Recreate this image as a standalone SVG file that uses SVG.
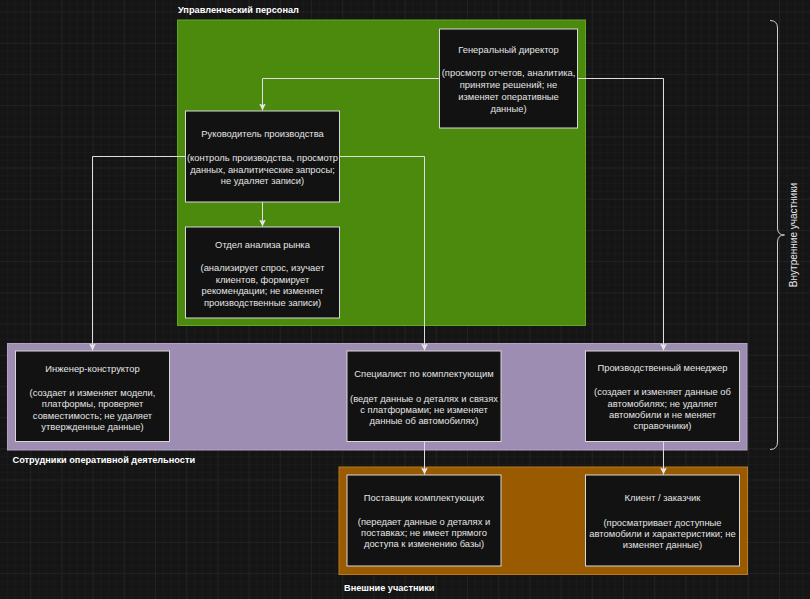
<svg xmlns="http://www.w3.org/2000/svg" width="810" height="599" viewBox="0 0 810 599">
<defs>
<pattern id="minor" width="7.8" height="7.8" patternUnits="userSpaceOnUse" x="0" y="12.5">
<path d="M7.8 0V7.8M0 7.8H7.8" fill="none" stroke="#1e1e1e" stroke-width="1"/>
</pattern>
<pattern id="major" width="31.2" height="31.2" patternUnits="userSpaceOnUse" x="0" y="12.5">
<path d="M31.2 0V31.2M0 31.2H31.2" fill="none" stroke="#282828" stroke-width="1"/>
</pattern>
<marker id="arr" markerUnits="userSpaceOnUse" markerWidth="8" markerHeight="8" refX="7" refY="4" orient="auto">
<path d="M0,0.6 L7,4 L0,7.4 L1.6,4 Z" fill="#e6e6e6"/>
</marker>
<style>
.node rect{fill:#121212;stroke:#d8d8d8;stroke-width:1}
.node text{font-family:"Liberation Sans",Arial,sans-serif;font-size:9.4px;fill:#e4e4e4;text-anchor:middle}
.title{font-family:"Liberation Sans",Arial,sans-serif;font-size:9.2px;font-weight:bold;fill:#ffffff}
.conn path{fill:none;stroke:#dedede;stroke-width:1;marker-end:url(#arr)}
</style>
</defs>
<rect width="810" height="599" fill="#151515"/>
<rect width="810" height="599" fill="url(#minor)"/>
<rect width="810" height="599" fill="url(#major)"/>

<g id="group-management">
<rect x="177.5" y="20" width="408" height="305.5" fill="#4b8a0c" stroke="#62a524" stroke-width="1"/>
<text class="title" x="178" y="12.5">Управленческий персонал</text>
</g>
<g id="group-operational">
<rect x="7.5" y="343.5" width="739.5" height="106.5" fill="#9e8db2" stroke="#b3a4c4" stroke-width="1"/>
<text class="title" x="12.5" y="462.5">Сотрудники оперативной деятельности</text>
</g>
<g id="group-external">
<rect x="339" y="467" width="408.5" height="107.5" fill="#995a00" stroke="#b57a22" stroke-width="1"/>
<text class="title" x="344" y="591">Внешние участники</text>
</g>

<g id="brace-internal">
<path d="M770,20.5 Q777.5,20.5 777.5,28 V228 Q777.5,235 784.5,235 Q777.5,235 777.5,242 V442 Q777.5,449.5 770,449.5" fill="none" stroke="#cfcfcf" stroke-width="1"/>
<text transform="translate(796.5,235) rotate(-90)" font-family="'Liberation Sans',Arial,sans-serif" font-size="10" fill="#e8e8e8" text-anchor="middle">Внутренние участники</text>
</g>

<g id="connectors" class="conn">
<path d="M439.5,78.5 H262.5 V110.5"/>
<path d="M262.5,202 V226.5"/>
<path d="M185.5,156.5 H92.5 V350.5"/>
<path d="M339.5,156.5 H424.5 V350.5"/>
<path d="M577.5,78.5 H663.5 V350.5"/>
<path d="M424.5,441.5 V474.5"/>
<path d="M663.5,441.5 V474.5"/>
</g>

<g id="node-gd" class="node">
<rect x="439.5" y="29" width="138" height="99"/>
<text x="508.5" y="52.6">Генеральный директор</text>
<text x="508.5" y="76">(просмотр отчетов, аналитика,</text>
<text x="508.5" y="88">принятие решений; не</text>
<text x="508.5" y="100">изменяет оперативные</text>
<text x="508.5" y="112">данные)</text>
</g>
<g id="node-head" class="node">
<rect x="185.5" y="111" width="154" height="91"/>
<text x="262.5" y="137.3">Руководитель производства</text>
<text x="262.5" y="161">(контроль производства, просмотр</text>
<text x="262.5" y="172.5">данных, аналитические запросы;</text>
<text x="262.5" y="184">не удаляет записи)</text>
</g>
<g id="node-market" class="node">
<rect x="185.5" y="227" width="154" height="91"/>
<text x="262.5" y="247.6">Отдел анализа рынка</text>
<text x="262.5" y="271">(анализирует спрос, изучает</text>
<text x="262.5" y="282.6">клиентов, формирует</text>
<text x="262.5" y="294.3">рекомендации; не изменяет</text>
<text x="262.5" y="306">производственные записи)</text>
</g>
<g id="node-engineer" class="node">
<rect x="15.5" y="351" width="154" height="90.5"/>
<text x="92.5" y="371.6">Инженер-конструктор</text>
<text x="92.5" y="395.6">(создает и изменяет модели,</text>
<text x="92.5" y="407.1">платформы, проверяет</text>
<text x="92.5" y="418.6">совместимость; не удаляет</text>
<text x="92.5" y="430.2">утвержденные данные)</text>
</g>
<g id="node-components" class="node">
<rect x="347" y="351" width="154" height="90.5"/>
<text x="424" y="377.3">Специалист по комплектующим</text>
<text x="424" y="401.8">(ведет данные о деталях и связях</text>
<text x="424" y="413.1">с платформами; не изменяет</text>
<text x="424" y="424.4">данные об автомобилях)</text>
</g>
<g id="node-manager" class="node">
<rect x="585.5" y="351" width="154" height="90.5"/>
<text x="662.5" y="371.4">Производственный менеджер</text>
<text x="662.5" y="395.3">(создает и изменяет данные об</text>
<text x="662.5" y="406.6">автомобилях; не удаляет</text>
<text x="662.5" y="417.9">автомобили и не меняет</text>
<text x="662.5" y="429.4">справочники)</text>
</g>
<g id="node-supplier" class="node">
<rect x="347" y="475" width="154" height="91"/>
<text x="424" y="501">Поставщик комплектующих</text>
<text x="424" y="525.3">(передает данные о деталях и</text>
<text x="424" y="536.2">поставках; не имеет прямого</text>
<text x="424" y="547.3">доступа к изменению базы)</text>
</g>
<g id="node-client" class="node">
<rect x="585.5" y="475" width="154" height="91"/>
<text x="662.5" y="501">Клиент / заказчик</text>
<text x="662.5" y="525.6">(просматривает доступные</text>
<text x="662.5" y="536.6">автомобили и характеристики; не</text>
<text x="662.5" y="547.6">изменяет данные)</text>
</g>
</svg>
